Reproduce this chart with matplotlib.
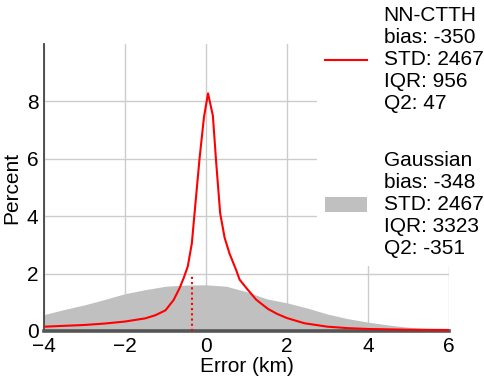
import matplotlib
matplotlib.use("Agg")
import matplotlib.pyplot as plt
from matplotlib.patches import Patch
from matplotlib.lines import Line2D

plt.rcParams["font.family"] = ["Liberation Sans", "DejaVu Sans"]

# Gaussian reference histogram (percent per 100 m bin)
gauss_x = [-4.0, -3.5, -3.0, -2.5, -2.0, -1.5, -1.0, -0.5, 0.0, 0.5,
           1.0, 1.5, 2.0, 2.5, 3.0, 3.5, 4.0, 4.5, 5.0, 5.5, 6.0]
gauss_y = [0.57, 0.75, 0.91, 1.10, 1.30, 1.44, 1.56, 1.60, 1.61, 1.56,
           1.37, 1.12, 0.98, 0.80, 0.59, 0.43, 0.31, 0.21, 0.13, 0.08, 0.06]

# NN-CTTH error distribution (percent)
nn_x = [-4.0, -3.5, -3.0, -2.5, -2.0, -1.5, -1.25, -1.0, -0.8, -0.65,
        -0.55, -0.45, -0.35, -0.28, -0.16, -0.05, 0.05, 0.17, 0.25, 0.35,
        0.46, 0.58, 0.74, 0.83, 1.03, 1.24, 1.53, 1.75, 2.0, 2.43,
        3.0, 3.5, 4.0, 5.0, 6.0]
nn_y = [0.15, 0.18, 0.21, 0.26, 0.33, 0.44, 0.55, 0.72, 1.08, 1.50,
        1.85, 2.25, 3.05, 4.14, 6.00, 7.45, 8.28, 7.50, 5.90, 4.10,
        3.25, 2.70, 2.14, 1.79, 1.44, 1.09, 0.77, 0.60, 0.45, 0.27,
        0.15, 0.10, 0.07, 0.045, 0.035]

# bias marker
bias_x = -0.35
bias_top = 1.9

nn_label = "NN-CTTH\nbias: -350\nSTD: 2467\nIQR: 956\nQ2: 47"
gauss_label = "Gaussian\nbias: -348\nSTD: 2467\nIQR: 3323\nQ2: -351"

fs = 15
fig = plt.figure(figsize=(4.85, 3.77), dpi=100)
ax = fig.add_axes([44 / 485, 46 / 377, 405 / 485, 287 / 377])

ax.fill_between(gauss_x, 0, gauss_y, color="#c0c0c0", linewidth=0, zorder=2)
ax.plot(nn_x, nn_y, color="red", linewidth=1.5, zorder=3)
ax.vlines(bias_x, 0, bias_top, colors="red", linestyles=(0, (1, 1.5)),
          linewidth=1.5, zorder=3)

ax.set_xlim(-4, 6)
ax.set_ylim(0, 10)
ax.set_yticks([0, 2, 4, 6, 8])
ax.set_xticks([-4, -2, 0, 2, 4, 6])
ax.tick_params(length=0, labelsize=fs, pad=4)
ax.set_xlabel("Error (km)", fontsize=fs, labelpad=1)
ax.set_ylabel("Percent", fontsize=fs, labelpad=4)

ax.grid(True, color="#cccccc", linewidth=1.0)
ax.set_axisbelow(True)
for s in ("top", "right"):
    ax.spines[s].set_visible(False)
ax.spines["left"].set_color("#444444")
ax.spines["left"].set_linewidth(1.3)
ax.spines["bottom"].set_color("#555555")
ax.spines["bottom"].set_linewidth(2.6)

handles = [Line2D([], [], color="red", linewidth=1.5),
           Patch(facecolor="#c0c0c0", edgecolor="none")]
leg = fig.legend(handles, [nn_label, gauss_label],
                 loc="upper left", bbox_to_anchor=(317 / 485, 1.0 + 2 / 377),
                 fontsize=fs, frameon=True, facecolor="white", edgecolor="none",
                 framealpha=1.0, fancybox=False, borderaxespad=0,
                 handlelength=2.0, handletextpad=0.8, labelspacing=1.8)
leg.set_zorder(10)

fig.savefig("out.png", dpi=100)
